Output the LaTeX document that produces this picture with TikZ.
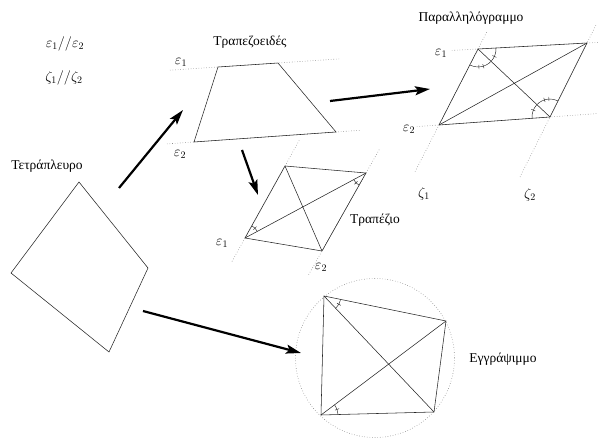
\documentclass[tikz,border=0pt]{standalone}
\usepackage[no-math]{fontspec}
\setmainfont{Liberation Serif}
\usetikzlibrary{calc,arrows.meta}

\tikzset{
  fig/.style={line width=0.55pt, draw=black!85},
  guide/.style={line width=0.6pt, draw=black!45, dotted},
  bigarrow/.style={line width=2.2pt, -{Stealth[length=15pt,width=9pt,inset=3pt]}},
  lbl/.style={font=\fontsize{13.5}{15}\selectfont, inner sep=0pt},
  mathlbl/.style={font=\fontsize{14}{16}\selectfont, inner sep=0pt},
  angarc/.style={line width=0.45pt, draw=black!85},
}

% #1 vertex, #2 from-point, #3 to-point, #4 radius (pt)
\newcommand\myarc[4]{%
  \draw[angarc] let \p1=($(#2)-(#1)$), \p2=($(#3)-(#1)$),
    \n1={atan2(\y1,\x1)}, \n2={atan2(\y2,\x2)},
    \n3={mod(\n2-\n1+540,360)-180} in
    ($(#1)+(\n1:#4pt)$) arc[start angle=\n1, delta angle=\n3, radius=#4pt];}
% #5 fraction of the arc where the tick goes
\newcommand\mytick[5]{%
  \draw[angarc] let \p1=($(#2)-(#1)$), \p2=($(#3)-(#1)$),
    \n1={atan2(\y1,\x1)}, \n2={atan2(\y2,\x2)},
    \n3={mod(\n2-\n1+540,360)-180}, \n4={\n1+#5*\n3} in
    ($(#1)+(\n4:#4pt)$) ++(\n4:-2.2pt) -- ++(\n4:4.4pt);}

\begin{document}
\begin{tikzpicture}[x=1pt,y=-1pt]
\useasboundingbox (0,0) rectangle (598,438);

% ---- top-left relations
\node[mathlbl] (rel1) at (65,44) {$\varepsilon_1//\varepsilon_2$};
\node[mathlbl] (rel2) at (64,78) {$\zeta_1//\zeta_2$};

% ---- quadrilateral
\coordinate (Q1) at (79,182);
\coordinate (Q2) at (148,268);
\coordinate (Q3) at (109,352);
\coordinate (Q4) at (11,273);
\draw[fig] (Q1)--(Q2)--(Q3)--(Q4)--cycle;
\node[lbl] (tq) at (47,166) {Τετράπλευρο};

% ---- trapezoid (one pair of parallel sides)
\coordinate (T1) at (218,67);
\coordinate (T2) at (278,63);
\coordinate (T3) at (336,132);
\coordinate (T4) at (194,142);
\draw[guide] ($(T1)!-0.8!(T2)$) -- ($(T1)!2.03!(T2)$);
\draw[guide] ($(T4)!-0.19!(T3)$) -- ($(T4)!1.17!(T3)$);
\draw[fig] (T1)--(T2)--(T3)--(T4)--cycle;
\node[lbl] (tt) at (250,42) {Τραπεζοειδές};
\node[mathlbl] (te1) at (181,62) {$\varepsilon_1$};
\node[mathlbl] (te2) at (180,154) {$\varepsilon_2$};

% ---- parallelogram
\coordinate (P1) at (478,49);
\coordinate (P2) at (587,43);
\coordinate (P3) at (550,117);
\coordinate (P4) at (439,125);
\draw[guide] ($(P1)!-0.24!(P2)$) -- ($(P1)!1.1!(P2)$);
\draw[guide] ($(P4)!-0.2!(P3)$) -- ($(P4)!1.43!(P3)$);
\draw[guide] ($(P1)!-0.22!(P4)$) -- ($(P1)!1.62!(P4)$);
\draw[guide] ($(P2)!-0.24!(P3)$) -- ($(P2)!1.83!(P3)$);
\draw[fig] (P1)--(P2)--(P3)--(P4)--cycle;
\draw[fig] (P1)--(P3) (P2)--(P4);
\myarc{P1}{P2}{P4}{18}
\mytick{P1}{P2}{P4}{18}{0.23}
\mytick{P1}{P2}{P4}{18}{0.63}
\mytick{P1}{P2}{P4}{18}{0.75}
\myarc{P3}{P4}{P2}{18}
\mytick{P3}{P4}{P2}{18}{0.22}
\mytick{P3}{P4}{P2}{18}{0.63}
\mytick{P3}{P4}{P2}{18}{0.75}
\node[lbl] (tp) at (471,18) {Παραλληλόγραμμο};
\node[mathlbl] (pe1) at (441,53) {$\varepsilon_1$};
\node[mathlbl] (pe2) at (409,129) {$\varepsilon_2$};
\node[mathlbl] (pz1) at (424,194) {$\zeta_1$};
\node[mathlbl] (pz2) at (530,195) {$\zeta_2$};

% ---- trapezium
\coordinate (Z1) at (285,166);
\coordinate (Z2) at (366,173);
\coordinate (Z3) at (322,251);
\coordinate (Z4) at (245,238);
\draw[guide] ($(Z4)!-0.325!(Z1)$) -- ($(Z4)!1.375!(Z1)$);
\draw[guide] ($(Z2)!-0.3!(Z3)$) -- ($(Z2)!1.32!(Z3)$);
\draw[fig] (Z1)--(Z2)--(Z3)--(Z4)--cycle;
\draw[fig] (Z1)--(Z3) (Z2)--(Z4);
\myarc{Z4}{Z2}{Z1}{14}
\mytick{Z4}{Z2}{Z1}{14}{0.5}
\myarc{Z2}{Z4}{Z3}{14}
\mytick{Z2}{Z4}{Z3}{14}{0.5}
\node[lbl] (tz) at (375,220) {Τραπέζιο};
\node[mathlbl] (ze1) at (222,243) {$\varepsilon_1$};
\node[mathlbl] (ze2) at (321,267) {$\varepsilon_2$};

% ---- cyclic quadrilateral
\coordinate (C0) at (375,358);
\coordinate (E1) at (324,296);
\coordinate (E2) at (446,321);
\coordinate (E3) at (434,412);
\coordinate (E4) at (321,415);
\draw[guide] (C0) circle[radius=79.5pt];
\draw[fig] (E1)--(E2)--(E3)--(E4)--cycle;
\draw[fig] (E1)--(E3) (E2)--(E4);
\myarc{E1}{E2}{E3}{17}
\mytick{E1}{E2}{E3}{17}{0.5}
\myarc{E4}{E3}{E2}{17}
\mytick{E4}{E3}{E2}{17}{0.5}
\node[lbl] (te) at (503,359) {Εγγράψιμμο};

% ---- arrows
\coordinate (a1s) at (119,188);
\coordinate (a1e) at (183,110);
\coordinate (a2s) at (330,101);
\coordinate (a2e) at (430,89);
\coordinate (a3s) at (242,150);
\coordinate (a3e) at (258,195);
\coordinate (a4s) at (143,311);
\coordinate (a4e) at (301,353);
\draw[bigarrow] (a1s) -- (a1e);
\draw[bigarrow] (a2s) -- (a2e);
\draw[bigarrow] (a3s) -- (a3e);
\draw[bigarrow] (a4s) -- (a4e);
\end{tikzpicture}
\end{document}
